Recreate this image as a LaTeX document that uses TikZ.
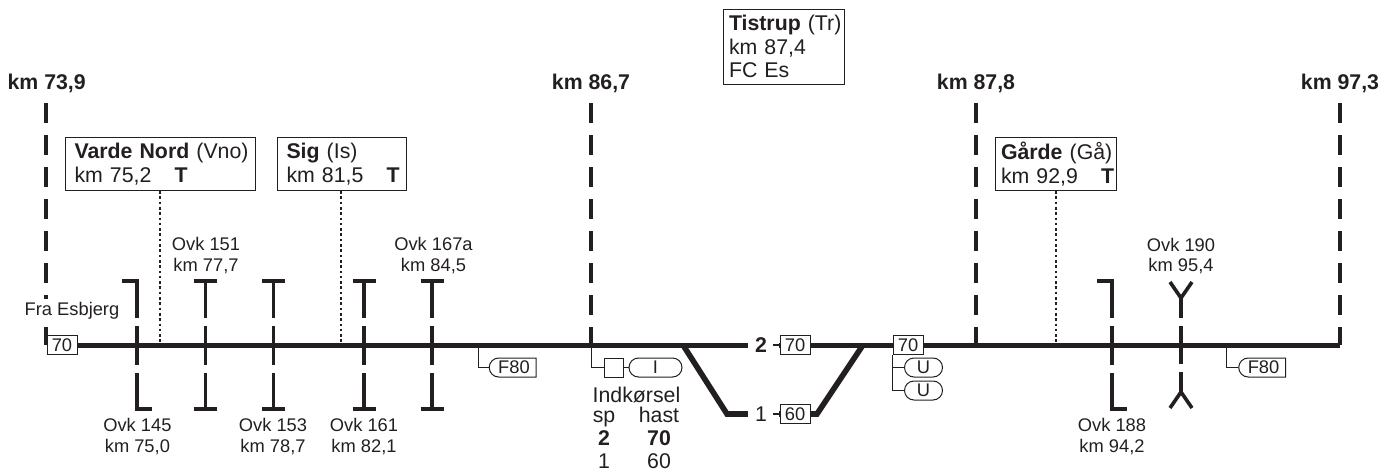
\documentclass[tikz,border=0pt]{standalone}
\usepackage{fontspec}
\setmainfont{Liberation Sans}
\usetikzlibrary{shapes.misc,calc}
\definecolor{ink}{HTML}{231F20}
\newcommand{\lab}{\fontsize{18.3}{20.5}\selectfont}
\newcommand{\bx}{\fontsize{21.3}{23.6}\selectfont}
\newcommand{\kmT}[1]{\mbox{\makebox[100pt][l]{km #1}\textbf{T}}}
\tikzset{
 x=1pt,y=-1pt,
 every node/.style={text=ink},
 track/.style={line width=5pt,ink},
 km/.style={line width=4.2pt,ink,dash pattern=on 20pt off 12pt},
 cross/.style={line width=3.4pt,ink,dash pattern=on 39pt off 8pt},
 bar/.style={line width=3.6pt,ink},
 thin line/.style={line width=1pt,ink},
 stub/.style={line width=2pt,ink},
 dots/.style={line width=2pt,ink,dash pattern=on 2.6pt off 2.7pt},
 infobox/.style={draw=ink,line width=1pt,fill=white,align=left,anchor=north west,inner ysep=0pt,font=\bx},
 speed/.style={draw=ink,line width=1pt,fill=white,minimum height=18.6pt,minimum width=30pt,inner sep=0pt,font=\lab},
 pill/.style={draw=ink,line width=1pt,fill=white,rounded rectangle,minimum height=19pt,inner sep=0pt,font=\lab},
 halfpill/.style={draw=ink,line width=1pt,fill=white,rounded rectangle,rounded rectangle east arc=none,minimum height=19pt,minimum width=47pt,inner sep=0pt,font=\lab},
 sq/.style={draw=ink,line width=1pt,fill=white,minimum size=19pt,inner sep=0pt},
 txt/.style={inner sep=0pt,align=center,font=\lab},
 tab/.style={inner sep=0pt,anchor=base,font=\bx},
 kmtxt/.style={inner sep=0pt,font=\bfseries\bx,anchor=center},
}
\begin{document}
\begin{tikzpicture}
\useasboundingbox (0,0) rectangle (1381,471);
% coordinates
\coordinate (tS) at (47,345); \coordinate (tE) at (1340,345);
\coordinate (sw1) at (683,345); \coordinate (sw2) at (863,345);
\coordinate (l1) at (727,414); \coordinate (l2) at (817,414);
% km dashes
\foreach \n/\x in {a/46,b/591,c/976,d/1340}{
  \coordinate (\n T) at (\x,103); \coordinate (\n B) at (\x,345);
  \draw[km] (\n T) -- (\n B);
}
% main track
\draw[track] (tS) -- (sw2);
\draw[track,line width=5.6pt,line join=miter] (sw1) -- (l1) -- (l2) -- (sw2);
\draw[track] (sw2) -- (tE);
% info boxes
\node[infobox,minimum width=189.5pt,minimum height=53pt,text width=171.5pt,inner xsep=9pt] (vn) at (65,137) {\mbox{\textbf{Varde Nord} (Vno)}\\\kmT{75,2}};
\node[infobox,minimum width=129pt,minimum height=53pt,text width=111pt,inner xsep=9pt] (sig) at (277,137) {\mbox{\textbf{Sig} (Is)}\\\kmT{81,5}};
\node[infobox,minimum width=121pt,minimum height=53pt,text width=110pt,inner xsep=5.5pt] (ga) at (995,137) {\mbox{\textbf{Gårde} (Gå)}\\\kmT{92,9}};
\node[infobox,minimum width=121pt,minimum height=75.5pt,text width=110pt,inner xsep=5.5pt] (ti) at (723,8.5) {\mbox{\textbf{Tistrup} (Tr)}\\km 87,4\\FC Es};
\coordinate (d1) at (160,345); \coordinate (d2) at (341,345); \coordinate (d3) at (1056,345);
\draw[dots] (vn.south -| d1) -- (d1);
\draw[dots] (sig.south -| d2) -- (d2);
\draw[dots] (ga.south -| d3) -- (d3);
% km labels
\node[kmtxt] (k1) at (46.7,83) {km 73,9};
\node[kmtxt] (k2) at (591,83) {km 86,7};
\node[kmtxt] (k3) at (976,83) {km 87,8};
\node[kmtxt] (k4) at (1340,83) {km 97,3};
% crossings with half brackets
\foreach \n/\x in {p/137,q/1112}{
  \coordinate (\n T) at (\x,279); \coordinate (\n B) at (\x,411);
  \draw[cross] (\n T) -- (\n B);
  \draw[bar] ($(\n T)+(-15,1.8)$) -- ($(\n T)+(1.7,1.8)$);
  \draw[bar] ($(\n B)+(-1.7,-1.8)$) -- ($(\n B)+(15,-1.8)$);
}
% crossings with T bars
\foreach \n/\x in {r/205.3,s/273.3,t/364,u/432}{
  \coordinate (\n T) at (\x,279); \coordinate (\n B) at (\x,411);
  \draw[cross] (\n T) -- (\n B);
  \draw[bar] ($(\n T)+(-11.5,1.8)$) -- ($(\n T)+(11.5,1.8)$);
  \draw[bar] ($(\n B)+(-11.5,-1.8)$) -- ($(\n B)+(11.5,-1.8)$);
}
% Y crossing
\coordinate (yT) at (1181,298); \coordinate (yB) at (1181,392);
\draw[cross,dash pattern=on 20pt off 8pt on 38pt off 8pt on 20pt] (yT) -- (yB);
\draw[bar] (1170,282) -- (yT) -- (1192,282);
\draw[bar] (1170,408) -- (yB) -- (1192,408);
% Labels
\node[txt] (o151) at (206,255.3) {Ovk 151\\km 77,7};
\node[txt] (o167) at (433.5,255.3) {Ovk 167a\\km 84,5};
\node[txt] (o190) at (1181,255.8) {Ovk 190\\km 95,4};
\node[txt] (o145) at (137.4,436.3) {Ovk 145\\km 75,0};
\node[txt] (o153) at (273,436.3) {Ovk 153\\km 78,7};
\node[txt] (o161) at (364,436.3) {Ovk 161\\km 82,1};
\node[txt] (o188) at (1112,436.3) {Ovk 188\\km 94,2};
\node[txt,fill=white,inner xsep=1pt,inner ysep=3pt] (fe) at (72,311) {Fra Esbjerg};
% speed boxes on track
\node[speed] (s0) at (62,345) {70};
\fill[white] (748,337) rectangle (779,353);
\fill[white] (748,406) rectangle (779,422);
\node[inner sep=0pt,font=\bfseries\bx] (n2) at (761,345) {2};
\node[inner sep=0pt,font=\bx] (n1) at (761,414) {1};
\node[speed] (s2) at (795,345) {70};
\node[speed] (s1) at (795,414) {60};
\coordinate (c2) at (773,345); \coordinate (c1) at (773,414);
\draw[stub] (c2) -- (s2.west);
\draw[stub] (c1) -- (s1.west);
\node[speed] (s3) at (908,345) {70};
% F80 signs
\node[halfpill] (f1) at (514,367.5) {F80};
\node[halfpill] (f2) at (1263.5,367.5) {F80};
\coordinate (f1t) at (478,345); \coordinate (f2t) at (1226,345);
\draw[thin line] (f1t) |- (f1.west);
\draw[thin line] (f2t) |- (f2.west);
% signal
\node[sq] (sq) at (613.5,367.5) {};
\node[pill,minimum width=53pt] (pi) at (655.5,367.5) {I};
\coordinate (st) at (591,345);
\draw[thin line] (st) |- (sq.west);
\draw[thin line] (sq.east) -- (pi.west);
% U
\node[pill,minimum width=38pt] (u1) at (923.5,367.5) {U};
\node[pill,minimum width=38pt] (u2) at (923.5,390.5) {U};
\draw[thin line] (s3.south west) |- (u2.west);
\draw[thin line] (u1.west) -- (s3.south west |- u1.west);
% table
\node[tab] (ind) at (636.5,402) {Indkørsel};
\node[tab] (sp) at (604,422) {sp};
\node[tab] (ha) at (659,422) {hast};
\node[tab,font=\bfseries\bx] (r2) at (604,445) {2};
\node[tab,font=\bfseries\bx] (r70) at (659,445) {70};
\node[tab] (r1) at (604,468) {1};
\node[tab] (r60) at (659,468) {60};
\end{tikzpicture}
\end{document}
